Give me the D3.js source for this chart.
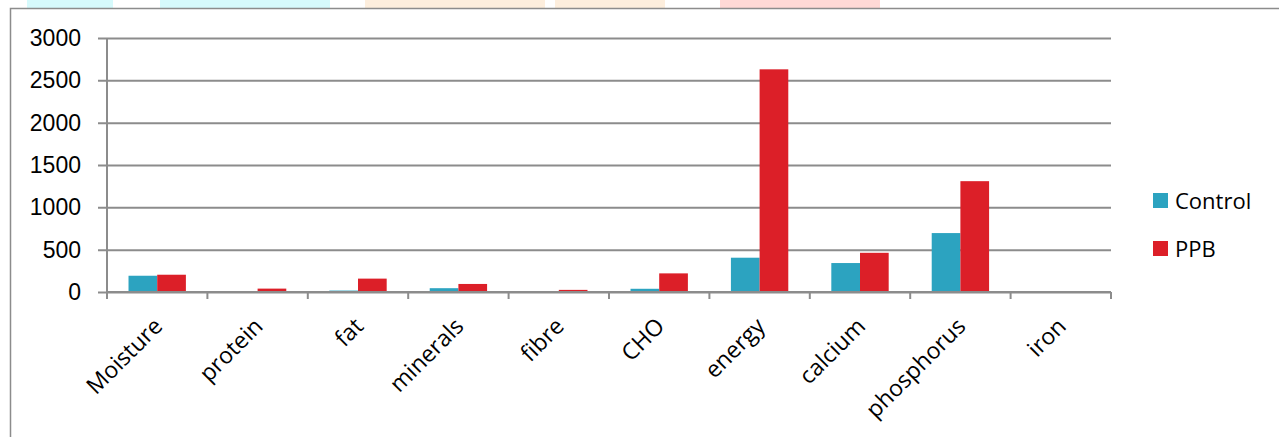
<!DOCTYPE html>
<html>
<head>
<meta charset="utf-8">
<script src="https://cdn.jsdelivr.net/npm/d3@7"></script>
<style>
  body { margin: 0; background: #fff; }
  svg { display: block; font-family: "Open Sans", sans-serif; }
</style>
</head>
<body>
<svg id="chart" width="1279" height="437"></svg>
<script>
// data
const categories = ["Moisture", "protein", "fat", "minerals", "fibre", "CHO", "energy", "calcium", "phosphorus", "iron"];
const seriesNames = ["Control", "PPB"];
const control = [192, 5, 17, 45, 2, 38, 405, 342, 696, 1];
const ppb = [204, 40, 158, 95, 25, 220, 2630, 463, 1309, 3];
const yTicks = [0, 500, 1000, 1500, 2000, 2500, 3000];
const colors = ["#2ca3c0", "#dc1f28"];

const svg = d3.select("#chart");
const margin = { left: 107, right: 168, top: 38, bottom: 145 };
const width = 1279;
const height = 437;

// faint watermark strip at the very top
const marks = [[27, 113, "#d6fafc"], [160, 330, "#d6fafc"], [365, 545, "#fdeedd"], [555, 665, "#fdeedd"], [720, 880, "#ffd9d6"]];
svg.selectAll("rect.wm").data(marks).enter()
  .append("rect").attr("class", "wm")
    .attr("x", d => d[0]).attr("y", 0)
    .attr("width", d => d[1] - d[0]).attr("height", 8)
    .attr("fill", d => d[2]);

// outer chart frame (runs off the right and bottom edges)
svg.append("rect")
  .attr("x", 10.5).attr("y", 8.5)
  .attr("width", 1400).attr("height", 600)
  .attr("fill", "#fff")
  .attr("stroke", "#8c8c8c").attr("stroke-width", 1.5);

const x = d3.scaleBand()
  .domain(categories)
  .range([margin.left, width - margin.right]);

const xInner = d3.scaleBand()
  .domain(seriesNames)
  .range([0, x.bandwidth()])
  .paddingInner(0)
  .paddingOuter(0.75);

const y = d3.scaleLinear()
  .domain([0, 3000])
  .range([height - margin.bottom, margin.top]);

// gridlines + y labels
const yAxis = svg.append("g")
  .attr("transform", `translate(${margin.left},0)`)
  .call(d3.axisLeft(y).tickValues(yTicks).tickSize(-(width - margin.left - margin.right)).tickPadding(0).tickFormat(d3.format("d")));
yAxis.select(".domain").remove();
yAxis.selectAll(".tick line").attr("stroke", "#8c8c8c").attr("stroke-width", 2).attr("x1", -9);
yAxis.selectAll(".tick text")
  .attr("x", -26)
  .attr("font-size", 23)
  .attr("fill", "#000");

// vertical axis line
svg.append("line")
  .attr("x1", margin.left).attr("x2", margin.left)
  .attr("y1", y(3000)).attr("y2", y(0))
  .attr("stroke", "#8c8c8c").attr("stroke-width", 2);

// bars
const rows = categories.map((c, i) => ({ cat: c, vals: [control[i], ppb[i]] }));
const groups = svg.selectAll("g.grp").data(rows).enter()
  .append("g").attr("class", "grp")
    .attr("transform", d => `translate(${x(d.cat)},0)`);
groups.selectAll("rect")
  .data(d => d.vals.map((v, j) => ({ name: seriesNames[j], v: v, j: j })))
  .enter().append("rect")
    .attr("x", d => xInner(d.name))
    .attr("width", xInner.bandwidth())
    .attr("y", d => y(d.v))
    .attr("height", d => y(0) - y(d.v))
    .attr("fill", d => colors[d.j]);

// x axis with ticks between categories
const xAxisG = svg.append("g")
  .attr("transform", `translate(0,${y(0)})`);
xAxisG.append("line")
  .attr("x1", margin.left).attr("x2", width - margin.right)
  .attr("stroke", "#8c8c8c").attr("stroke-width", 2);
const bounds = categories.map(c => x(c)).concat([x(categories[categories.length - 1]) + x.bandwidth()]);
xAxisG.selectAll("line.tk").data(bounds).enter()
  .append("line").attr("class", "tk")
    .attr("x1", d => d).attr("x2", d => d)
    .attr("y1", 0).attr("y2", 7)
    .attr("stroke", "#8c8c8c").attr("stroke-width", 2);
xAxisG.selectAll("text").data(categories).enter()
  .append("text")
    .attr("transform", d => `translate(${x(d) + x.bandwidth() / 2 + 1},${30}) rotate(-45)`)
    .attr("text-anchor", "end")
    .attr("dy", "0.35em")
    .attr("font-size", 23)
    .attr("fill", "#000")
    .text(d => d);

// legend
const legend = svg.append("g").attr("transform", "translate(1153,193)");
const items = legend.selectAll("g").data(seriesNames).enter()
  .append("g").attr("transform", (d, i) => `translate(0,${i * 48})`);
items.append("rect")
  .attr("width", 15).attr("height", 15)
  .attr("fill", (d, i) => colors[i]);
items.append("text")
  .attr("x", 22).attr("y", 8)
  .attr("dy", "0.35em")
  .attr("font-size", 22)
  .attr("fill", "#000")
  .text(d => d);
</script>
</body>
</html>
